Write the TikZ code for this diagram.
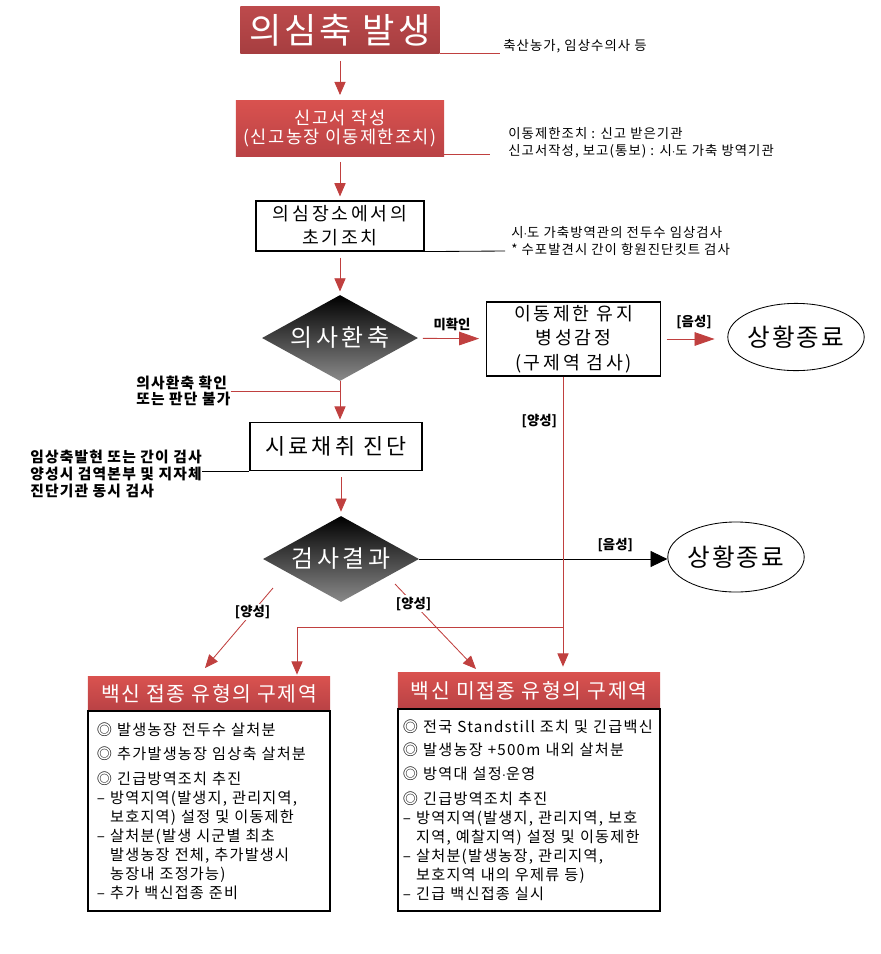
\documentclass[tikz,border=0pt]{standalone}
\usepackage{fontspec}
\setmainfont{Noto Sans CJK KR}
\newfontfamily\wideA{Noto Sans CJK KR}[LetterSpace=8]
\newfontfamily\wideB{Noto Sans CJK KR}[LetterSpace=15]
\newfontfamily\wideC{Noto Sans CJK KR}[LetterSpace=22]
\usetikzlibrary{arrows.meta, positioning, calc, shapes.geometric}

\definecolor{titletop}{HTML}{BD4A4C}
\definecolor{titlebot}{HTML}{A63E40}
\definecolor{redtop}{HTML}{D9524F}
\definecolor{redbot}{HTML}{B94245}
\definecolor{linered}{HTML}{C0403F}
\definecolor{diagray}{HTML}{8A8A8A}
\newcommand{\indt}{\hphantom{–\ }}

\begin{document}
\begin{tikzpicture}[
  x=0.025cm, y=-0.025cm,
  redbox/.style = {top color=redtop, bottom color=redbot, text=white, align=center, inner sep=0pt},
  block/.style = {draw, line width=0.8pt, fill=white, align=center, inner sep=0pt},
  decision/.style = {diamond, aspect=1.8, top color=black, bottom color=diagray, text=white, inner sep=0pt,
    minimum width=3.9cm, minimum height=2.15cm, font=\wideB\fontsize{17}{20}\selectfont},
  finish/.style = {ellipse, draw, line width=0.6pt, inner sep=0pt, font=\wideA\fontsize{17.5}{20}\selectfont},
  note/.style = {align=left, inner sep=0pt, font=\wideA\fontsize{9.5}{12}\selectfont},
  bnote/.style = {align=left, inner sep=0pt, font=\wideA\bfseries\fontsize{10.5}{11.4}\selectfont},
  tag/.style = {font=\bfseries\fontsize{9.5}{11}\selectfont, inner sep=1pt},
  listbox/.style = {draw, line width=0.8pt, align=left, inner xsep=0.2cm, anchor=north,
    font=\wideA\fontsize{10.8}{13.5}\selectfont},
  arrow/.style = {draw=linered, line width=0.6pt, -{Triangle[length=0.33cm, width=0.28cm]}},
  harrow/.style = {draw=linered, line width=0.6pt, -{Triangle[length=0.5cm, width=0.34cm]}},
  redline/.style = {draw=linered, line width=0.6pt},
  blkline/.style = {draw=black, line width=0.6pt},
]
\useasboundingbox (0,0) rectangle (881,954);

% Outbreak
\node[redbox, top color=titletop, bottom color=titlebot, minimum width=4.98cm, minimum height=1.17cm,
  font=\wideA\fontsize{25}{27}\selectfont] (alarm) at (340,30) {의심축 발생};

% Report
\node[redbox, minimum width=5.2cm, minimum height=1.42cm, font=\wideA\fontsize{12.5}{13.5}\selectfont]
  (report) at (340,128.5) {신고서 작성\\(신고농장 이동제한조치)};

% First action
\node[block, minimum width=4.2cm, minimum height=1.25cm, font=\wideB\fontsize{13}{17}\selectfont]
  (first) at (340,226) {의심장소에서의\\초기조치};

% Suspect?
\node[decision] (suspect) at (340,338) {의사환축};

% Hold
\node[block, minimum width=4.33cm, minimum height=1.85cm, font=\wideB\fontsize{13}{17.4}\selectfont]
  (hold) at (573.5,339) {이동제한 유지\\병성감정\\(구제역 검사)};
\node[finish, minimum width=2.83cm, minimum height=1.68cm] (end1) at (796,337) {상황종료};

% Sampling
\node[block, minimum width=4.3cm, minimum height=1.22cm, font=\wideB\fontsize{15.5}{18}\selectfont]
  (sample) at (336,446.5) {시료채취 진단};

% Result
\node[decision] (result) at (341,559) {검사결과};
\node[finish, minimum width=2.8cm, minimum height=1.75cm] (end2) at (736,557) {상황종료};

% Side notes
\node[note, anchor=west] (note1) at (503,46) {축산농가, 임상수의사 등};
\node[note, anchor=west] (note2) at (508,142.5) {이동제한조치 : 신고 받은기관\\신고서작성, 보고(통보) : 시$\cdot$도 가축 방역기관};
\node[note, anchor=west] (note3) at (511,241) {시$\cdot$도 가축방역관의 전두수 임상검사\\* 수포발견시 간이 항원진단킷트 검사};
\node[bnote, anchor=west] (note4) at (136,391) {의사환축 확인\\또는 판단 불가};
\node[bnote, anchor=west, font=\wideA\bfseries\fontsize{10.5}{12.1}\selectfont]
  (note5) at (30,474) {임상축발현 또는 간이 검사\\양성시 검역본부 및 지자체\\진단기관 동시 검사};

% Vaccinated
\node[redbox, minimum width=6.05cm, minimum height=0.83cm, font=\wideA\fontsize{14.5}{17}\selectfont]
  (vachead) at (209,693.5) {백신 접종 유형의 구제역};
\node[listbox, minimum width=6.05cm, minimum height=5cm, text width=5.6cm] (vacbody) at (vachead.south) {%
  ◎ 발생농장 전두수 살처분\\[4pt]
  ◎ 추가발생농장 임상축 살처분\\[4pt]
  ◎ 긴급방역조치 추진\\
  – 방역지역(발생지, 관리지역,\\
  \indt 보호지역) 설정 및 이동제한\\
  – 살처분(발생 시군별 최초\\
  \indt 발생농장 전체, 추가발생시\\
  \indt 농장내 조정가능)\\
  – 추가 백신접종 준비};

% Not vaccinated
\node[redbox, minimum width=6.55cm, minimum height=0.88cm, font=\wideA\fontsize{14.5}{17}\selectfont]
  (novhead) at (529,690.5) {백신 미접종 유형의 구제역};
\node[listbox, minimum width=6.55cm, minimum height=5.05cm, text width=6.3cm, inner xsep=0.12cm]
  (novbody) at (novhead.south) {%
  ◎ 전국 Standstill 조치 및 긴급백신\\[3pt]
  ◎ 발생농장 +500m 내외 살처분\\[4pt]
  ◎ 방역대 설정$\cdot$운영\\[4pt]
  ◎ 긴급방역조치 추진\\
  – 방역지역(발생지, 관리지역, 보호\\
  \indt 지역, 예찰지역) 설정 및 이동제한\\
  – 살처분(발생농장, 관리지역,\\
  \indt 보호지역 내의 우제류 등)\\
  – 긴급 백신접종 실시};

% Free ends
\coordinate (n1end) at (500,53);
\coordinate (n2end) at (490,154);
\coordinate (n3end) at (505,251);
\coordinate (split) at (563,627);
\coordinate (join) at (297,627);
\coordinate (resL) at (273,588);
\coordinate (vacL) at (205,668);
\coordinate (resR) at (395,584);
\coordinate (novL) at (476,669);

% Main column
\draw[arrow, shorten <=0.18cm, shorten >=0.12cm] (alarm) -- (report);
\draw[arrow, shorten <=0.12cm, shorten >=0.1cm] (report) -- (first);
\draw[arrow, shorten <=0.15cm, shorten >=0.08cm] (first) -- (suspect);
\draw[arrow, shorten >=0.05cm] (suspect.south) -- (suspect.south |- sample.north);
\draw[arrow, shorten <=0.15cm, shorten >=0.1cm] (sample.south -| result.north) -- (result.north);

% Note lines
\draw[redline] (alarm.east |- n1end) -- (n1end);
\draw[redline] (report.east |- n2end) -- (n2end);
\draw[blkline] (first.south east) -- (n3end);
\draw[redline] (note4.east) -- (note4.east -| suspect.south);
\draw[blkline] (sample.south west) -- (sample.south west -| note5.east);

% Not confirmed
\draw[harrow, shorten <=0.13cm, shorten >=0.18cm] (suspect) --
  node[tag, above=4pt] {미확인} (hold);
\draw[harrow, shorten <=0.15cm, shorten >=0.32cm] (hold.east) --
  node[tag, above=6pt] {[음성]} (hold.east -| end1.west);

% Negative result
\draw[line width=0.6pt, -{Triangle[length=0.42cm, width=0.4cm]}] (result.east) --
  node[tag, pos=0.79, above=4pt] {[음성]} (result.east -| end2.west);

% Positive results
\draw[arrow, shorten >=0.15cm] (hold.south -| split) --
  node[tag, pos=0.15, left=3pt] {[양성]} (split |- novhead.north);
\draw[arrow, shorten >=0.05cm] (split) -- (join) -- (join |- vachead.north);
\draw[arrow] (resL) --
  node[tag, pos=0.3, fill=white] {[양성]} (vacL);
\draw[arrow] (resR) --
  node[tag, pos=0.23, fill=white] {[양성]} (novL);

\end{tikzpicture}
\end{document}
